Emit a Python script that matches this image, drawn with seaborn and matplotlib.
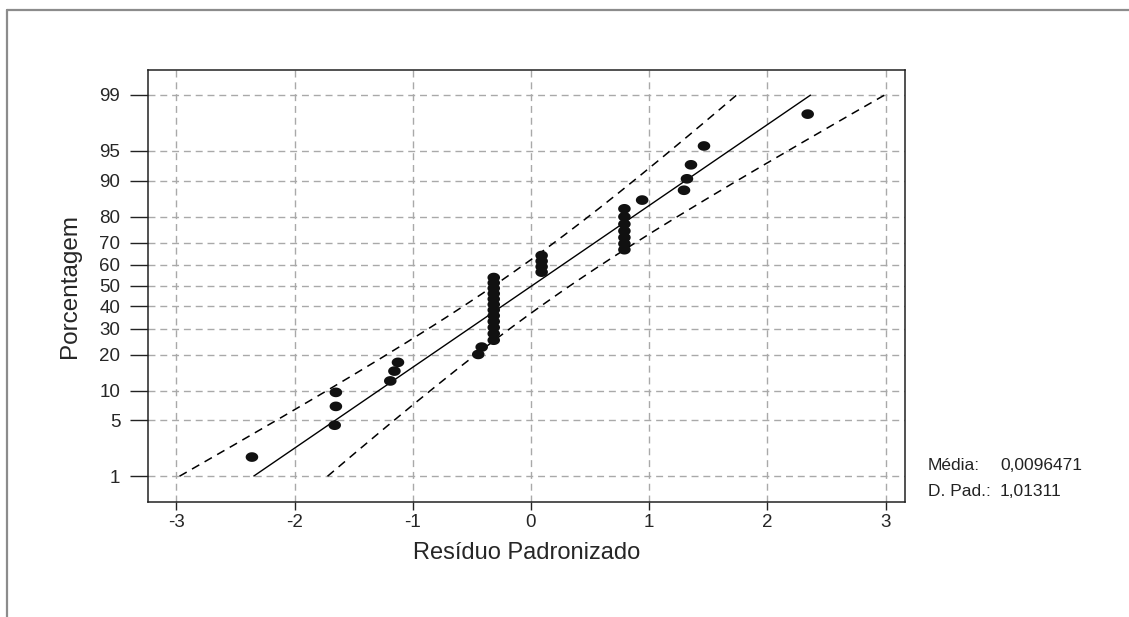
import numpy as np
import pandas as pd
import matplotlib
matplotlib.use("Agg")
import matplotlib.pyplot as plt
import seaborn as sns
from matplotlib.path import Path
from matplotlib.lines import Line2D
from statistics import NormalDist

# Standardized residuals (sorted)
residuals = [-2.36, -1.66, -1.65, -1.65, -1.19, -1.155, -1.125, -0.446, -0.417,
             -0.315, -0.315, -0.315, -0.315, -0.315, -0.315,
             -0.315, -0.315, -0.315, -0.315, -0.315, -0.315,
             0.09, 0.09, 0.09, 0.09,
             0.79, 0.79, 0.79, 0.79, 0.79, 0.79, 0.79,
             0.94, 1.294, 1.319, 1.353, 1.463, 2.34]

# Fitted normal parameters shown in the summary box
mean_res = 0.0096471
sd_res = 1.01311
summary_labels = ["Média:", "D. Pad.:"]
summary_values = ["0,0096471", "1,01311"]

# Probability-scale ticks (percent)
pct_ticks = [1, 5, 10, 20, 30, 40, 50, 60, 70, 80, 90, 95, 99]
x_ticks = [-3, -2, -1, 0, 1, 2, 3]

nd = NormalDist()
n = len(residuals)
ranks = np.arange(1, n + 1)
# Benard median ranks mapped to standard normal quantiles
zq = np.array([nd.inv_cdf((i - 0.3) / (n + 0.4)) for i in ranks])
df = pd.DataFrame({"residuo": np.sort(residuals), "z": zq})

# Fitted line and 95% confidence bands from 1% to 99%
z_line = np.linspace(nd.inv_cdf(0.01), nd.inv_cdf(0.99), 200)
x_fit = mean_res + sd_res * z_line
half = 1.959964 * sd_res * np.sqrt(1.0 / n + z_line ** 2 / (2.0 * (n - 1)))
lines = pd.DataFrame({"z": z_line, "fit": x_fit,
                      "low": x_fit - half, "high": x_fit + half})

sns.set_style("white")
plt.rcParams["font.family"] = ["Liberation Sans", "DejaVu Sans"]

W, H = 1129, 617
fig = plt.figure(figsize=(W / 100, H / 100), dpi=100)
ax = fig.add_axes([148 / W, 1 - 502 / H, (905 - 148) / W, (502 - 70) / H])

# Elliptical point marker (slightly wider than tall)
t = np.linspace(0, 2 * np.pi, 40)
ell = Path(np.column_stack([1.3 * np.cos(t), np.sin(t)]), closed=True)

ax.plot(lines["fit"], lines["z"], color="black", lw=1.0, solid_capstyle="butt")
ax.plot(lines["low"], lines["z"], color="black", lw=1.1, linestyle=(0, (5.5, 4)))
ax.plot(lines["high"], lines["z"], color="black", lw=1.1, linestyle=(0, (5.5, 4)))

sns.scatterplot(data=df, x="residuo", y="z", ax=ax, marker=ell, s=82,
                color="#111111", edgecolor="none", linewidth=0, zorder=3)

ax.set_xlim(-3.239, 3.163)
ax.set_ylim(-2.64, 2.63)
ax.set_xticks(x_ticks)
ax.set_xticklabels([str(v) for v in x_ticks])
ax.set_yticks([nd.inv_cdf(p / 100) for p in pct_ticks])
ax.set_yticklabels([str(p) for p in pct_ticks])

ax.grid(True, color="#a9a9a9", linestyle=(0, (5, 3.5)), linewidth=1.0)
ax.set_axisbelow(True)
for sp in ax.spines.values():
    sp.set_color("#222222")
    sp.set_linewidth(1.1)

ax.tick_params(axis="x", direction="out", length=5.5, width=1.0, color="#222222",
               labelsize=13.5, pad=3, bottom=True)
ax.tick_params(axis="y", direction="out", length=13, width=1.0, color="#222222",
               labelsize=13.5, pad=7, left=True)

ax.set_xlabel("Resíduo Padronizado", fontsize=17, labelpad=8)
ax.set_ylabel("Porcentagem", fontsize=17.5, labelpad=13)

# Summary of the fitted distribution
for k, (lab, val) in enumerate(zip(summary_labels, summary_values)):
    yy = 1 - (466 + 25 * k) / H
    fig.text(928 / W, yy, lab, fontsize=12.5, va="center", ha="left", color="#222222")
    fig.text(1000 / W, yy, val, fontsize=12.5, va="center", ha="left", color="#222222")

# Outer frame
frame_kw = dict(color="#8c8c8c", lw=1.6, transform=fig.transFigure)
fig.add_artist(Line2D([7 / W, 1.0], [1 - 10 / H, 1 - 10 / H], **frame_kw))
fig.add_artist(Line2D([7 / W, 7 / W], [0.0, 1 - 10 / H], **frame_kw))

fig.savefig("out.png", dpi=100)
